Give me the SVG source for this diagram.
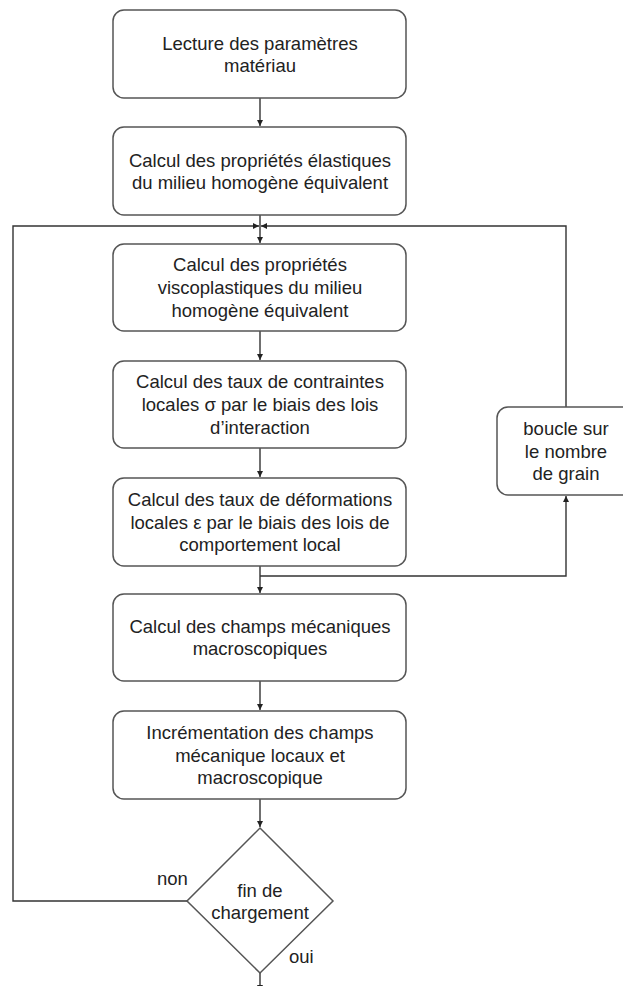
<svg xmlns="http://www.w3.org/2000/svg" width="623" height="986" viewBox="0 0 623 986">
<style>
.box{fill:#fff;stroke:#555;stroke-width:1.5}
.t{font-family:"Liberation Sans",Arial,sans-serif;font-size:18.5px;fill:#222;text-anchor:middle}
.l{font-family:"Liberation Sans",Arial,sans-serif;font-size:18.5px;fill:#222}
.c{fill:none;stroke:#333;stroke-width:1.4}
</style>
<defs>
<marker id="ah" markerUnits="userSpaceOnUse" markerWidth="7" markerHeight="7" refX="6" refY="3" orient="auto">
<path d="M0,0 L6,3 L0,6 z" fill="#222"/>
</marker>
</defs>
<rect width="623" height="986" fill="#fff"/>
<g id="connectors">
<path class="c" d="M260,98 V126" marker-end="url(#ah)"/>
<path class="c" d="M260,215 V243" marker-end="url(#ah)"/>
<path class="c" d="M187,901 H13 V226 H259" marker-end="url(#ah)"/>
<path class="c" d="M566,407 V226 H261" marker-end="url(#ah)"/>
<path class="c" d="M260,331 V360" marker-end="url(#ah)"/>
<path class="c" d="M260,448 V477" marker-end="url(#ah)"/>
<path class="c" d="M260,566 V593" marker-end="url(#ah)"/>
<path class="c" d="M260,576 H566 V496" marker-end="url(#ah)"/>
<path class="c" d="M260,681 V710" marker-end="url(#ah)"/>
<path class="c" d="M260,799 V827" marker-end="url(#ah)"/>
<path class="c" d="M260,973 V991" marker-end="url(#ah)"/>
</g>
<g id="n1">
<rect class="box" x="113" y="10" width="293" height="88" rx="11"/>
<text class="t" x="260" y="49.5">Lecture des paramètres</text>
<text class="t" x="260" y="72">matériau</text>
</g>
<g id="n2">
<rect class="box" x="113" y="127" width="293" height="88" rx="11"/>
<text class="t" x="260" y="166.7">Calcul des propriétés élastiques</text>
<text class="t" x="260" y="189.3">du milieu homogène équivalent</text>
</g>
<g id="n3">
<rect class="box" x="113" y="244" width="293" height="87" rx="11"/>
<text class="t" x="260" y="271.4">Calcul des propriétés</text>
<text class="t" x="260" y="294">viscoplastiques du milieu</text>
<text class="t" x="260" y="316.6">homogène équivalent</text>
</g>
<g id="n4">
<rect class="box" x="113" y="361" width="293" height="87" rx="11"/>
<text class="t" x="260" y="388.4">Calcul des taux de contraintes</text>
<text class="t" x="260" y="411">locales σ par le biais des lois</text>
<text class="t" x="260" y="433.6">d’interaction</text>
</g>
<g id="n5">
<rect class="box" x="113" y="478" width="293" height="88" rx="11"/>
<text class="t" x="260" y="505.9">Calcul des taux de déformations</text>
<text class="t" x="260" y="528.5">locales ε par le biais des lois de</text>
<text class="t" x="260" y="551.1">comportement local</text>
</g>
<g id="n6">
<rect class="box" x="113" y="594" width="293" height="87" rx="11"/>
<text class="t" x="260" y="632.7">Calcul des champs mécaniques</text>
<text class="t" x="260" y="655.3">macroscopiques</text>
</g>
<g id="n7">
<rect class="box" x="113" y="711" width="293" height="88" rx="11"/>
<text class="t" x="260" y="738.9">Incrémentation des champs</text>
<text class="t" x="260" y="761.5">mécanique locaux et</text>
<text class="t" x="260" y="784.1">macroscopique</text>
</g>
<g id="loop">
<rect class="box" x="497" y="407" width="138" height="88" rx="11"/>
<text class="t" x="566" y="435">boucle sur</text>
<text class="t" x="566" y="457.5">le nombre</text>
<text class="t" x="566" y="480">de grain</text>
</g>
<g id="decision">
<path class="box" d="M260,828 L333,901 L260,973 L187,901 Z"/>
<text class="t" x="260" y="896.5">fin de</text>
<text class="t" x="260" y="918.8">chargement</text>
</g>
<g id="labels">
<text class="l" x="157" y="885">non</text>
<text class="l" x="289" y="962.7">oui</text>
</g>
</svg>
